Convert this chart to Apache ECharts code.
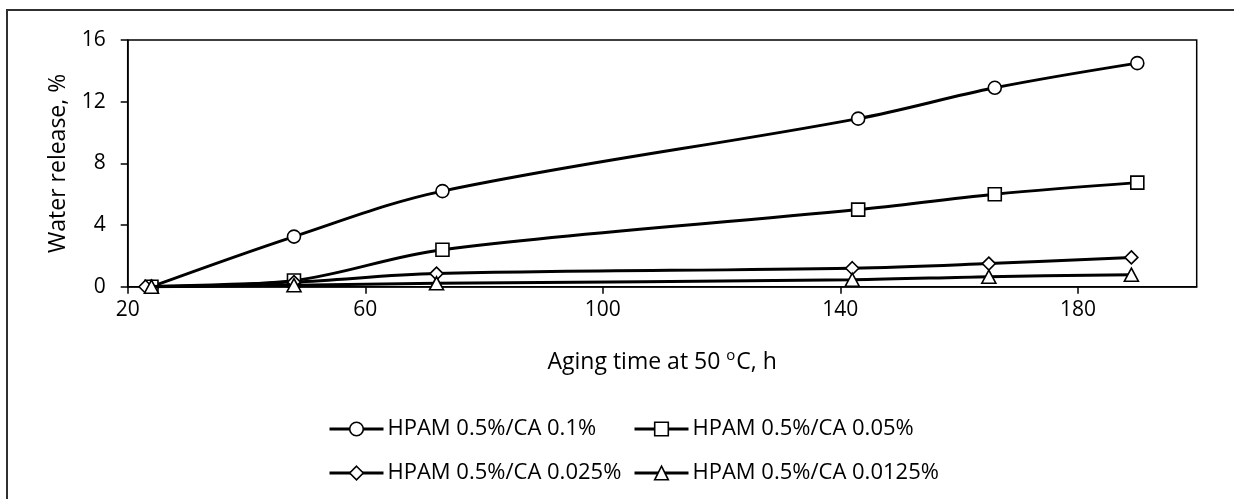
<!DOCTYPE html>
<html>
<head>
<meta charset="utf-8">
<script src="https://cdn.jsdelivr.net/npm/echarts@6/dist/echarts.min.js"></script>
<style>
  html, body { margin: 0; padding: 0; background: #fff; }
  #chart { width: 1234px; height: 499px; }
</style>
</head>
<body>
<div id="chart"></div>
<script>
// Water release of HPAM/CA gels during aging at 50 °C
const seriesNames = [
  'HPAM 0.5%/CA 0.1%',
  'HPAM 0.5%/CA 0.05%',
  'HPAM 0.5%/CA 0.025%',
  'HPAM 0.5%/CA 0.0125%'
];
// [aging time h, water release %]
const ca0100 = [[24, 0], [48, 3.25], [73, 6.2], [143, 10.9], [166, 12.9], [190, 14.5]];
const ca0050 = [[24, 0], [48, 0.4], [73, 2.4], [143, 5.0], [166, 6.0], [190, 6.75]];
const ca0025 = [[23, 0], [48, 0.3], [72, 0.85], [142, 1.2], [165, 1.5], [189, 1.9]];
const ca00125 = [[24, 0], [48, 0.1], [72, 0.22], [142, 0.45], [165, 0.65], [189, 0.78]];
const symbols = ['circle', 'rect', 'diamond', 'triangle'];
const xTicks = [20, 60, 100, 140, 180];
const yTicks = [0, 4, 8, 12, 16];

const FONT = 'Open Sans';
const allData = [ca0100, ca0050, ca0025, ca00125];

const series = allData.map((d, i) => ({
  name: seriesNames[i],
  type: 'line',
  data: d,
  smooth: 0.35,
  symbol: symbols[i],
  symbolSize: symbols[i] === 'triangle' ? [14, 13] : 13,
  lineStyle: { color: '#000', width: 3 },
  itemStyle: { color: '#fff', borderColor: '#000', borderWidth: 1.6 },
  emphasis: { disabled: true },
  z: 2 + i
}));

// legend items laid out on a two-column grid
const legendPos = [
  { left: 328, top: 418 },
  { left: 633, top: 418 },
  { left: 328, top: 462 },
  { left: 633, top: 462 }
];
const legends = seriesNames.map((n, i) => ({
  data: [n],
  left: legendPos[i].left,
  top: legendPos[i].top,
  padding: 0,
  itemWidth: 54,
  itemHeight: 17,
  itemGap: 0,
  selectedMode: false,
  lineStyle: { width: 3, color: '#000' },
  itemStyle: { color: '#fff', borderColor: '#000', borderWidth: 1.6 },
  textStyle: { fontFamily: FONT, fontSize: 22, color: '#000', padding: [0, 0, 0, -1] }
}));

const chart = echarts.init(document.getElementById('chart'), null, { renderer: 'canvas' });
chart.setOption({
  animation: false,
  backgroundColor: '#fff',
  textStyle: { fontFamily: FONT },
  graphic: [{
    type: 'rect',
    shape: { x: 7, y: 10, width: 1400, height: 700 },
    style: { fill: 'none', stroke: '#303030', lineWidth: 2 },
    silent: true,
    z: -1
  }],
  grid: {
    left: 127.7, top: 40, right: 37.3, bottom: 212.3,
    show: true, borderColor: '#000', borderWidth: 1.5, backgroundColor: 'transparent'
  },
  legend: legends,
  xAxis: {
    type: 'value',
    min: 20, max: 200, interval: 40,
    name: 'Aging time at 50 {sup|o}C, h',
    nameLocation: 'middle',
    nameGap: 62,
    nameTextStyle: {
      fontFamily: FONT, fontSize: 23, color: '#000',
      rich: { sup: { fontFamily: FONT, fontSize: 15, color: '#000', verticalAlign: 'top', padding: [0, 1, 12, 0] } }
    },
    axisLine: { show: true, lineStyle: { color: '#000', width: 1.5 } },
    axisTick: { show: true, inside: false, length: 7, lineStyle: { color: '#000', width: 1.5 }, customValues: xTicks },
    axisLabel: {
      fontFamily: FONT, fontSize: 21, color: '#000', margin: 13,
      customValues: xTicks,
      formatter: v => (xTicks.indexOf(v) >= 0 ? String(v) : '')
    },
    splitLine: { show: false }
  },
  yAxis: {
    type: 'value',
    min: 0, max: 16, interval: 4,
    name: 'Water release, %',
    nameLocation: 'middle',
    nameGap: 58,
    nameTextStyle: { fontFamily: FONT, fontSize: 23, color: '#000' },
    axisLine: { show: true, lineStyle: { color: '#000', width: 1.5 } },
    axisTick: { show: true, inside: false, length: 7, lineStyle: { color: '#000', width: 1.5 } },
    axisLabel: {
      fontFamily: FONT, fontSize: 21, color: '#000', margin: 22,
      formatter: v => (yTicks.indexOf(v) >= 0 ? String(v) : '')
    },
    splitLine: { show: false }
  },
  series: series
});
</script>
</body>
</html>
